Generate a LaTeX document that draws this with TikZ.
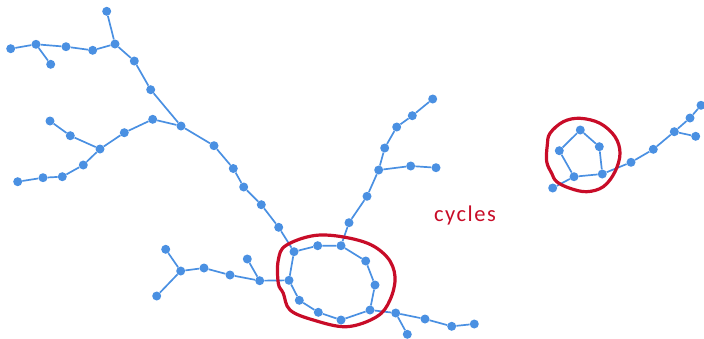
\documentclass[tikz,border=0pt]{standalone}
\usepackage{fontspec}
\newfontfamily\lblfont[LetterSpace=7]{Carlito}
\definecolor{nodeblue}{RGB}{74,144,226}
\definecolor{cyclered}{RGB}{200,12,40}
\tikzset{
  vtx/.style={circle,fill=nodeblue,draw=none,inner sep=0pt,minimum size=9pt},
  edg/.style={draw=nodeblue,line width=1.7pt},
  loopline/.style={draw=cyclered,line width=3.2pt,line join=round},
}
\begin{document}
\begin{tikzpicture}[x=1pt,y=-1pt]
\useasboundingbox (0,0) rectangle (704,338);
% top-left branch
\node[vtx] (a1) at (10.7,48.7) {};
\node[vtx] (a2) at (36,44.3) {};
\node[vtx] (a3) at (50.7,64.3) {};
\node[vtx] (a4) at (66,46.7) {};
\node[vtx] (a5) at (92.7,50.3) {};
\node[vtx] (a6) at (115,44) {};
\node[vtx] (a7) at (106.7,11.3) {};
\node[vtx] (a8) at (134.3,61) {};
\node[vtx] (a9) at (150.7,89.7) {};
\node[vtx] (hub) at (181,126) {};
% middle-left branch
\node[vtx] (b1) at (50,121) {};
\node[vtx] (b2) at (70.3,135.7) {};
\node[vtx] (b3) at (100,149) {};
\node[vtx] (b4) at (124.3,132.7) {};
\node[vtx] (b5) at (152.7,119.3) {};
\node[vtx] (b9) at (83.3,165) {};
\node[vtx] (b10) at (62.3,176.7) {};
\node[vtx] (b11) at (43,177.7) {};
\node[vtx] (b12) at (17.7,181.7) {};
% chain down
\node[vtx] (c1) at (214,145.7) {};
\node[vtx] (c2) at (233.3,168.5) {};
\node[vtx] (c3) at (243.7,187) {};
\node[vtx] (c4) at (261.3,204.7) {};
\node[vtx] (c5) at (278.7,227.3) {};
% ring
\node[vtx] (r1) at (294,251.7) {};
\node[vtx] (r2) at (317.7,245.7) {};
\node[vtx] (r3) at (341,245.7) {};
\node[vtx] (r4) at (365.7,261) {};
\node[vtx] (r5) at (375,285) {};
\node[vtx] (r6) at (370,310) {};
\node[vtx] (r7) at (341,320) {};
\node[vtx] (r8) at (318.3,312.3) {};
\node[vtx] (r9) at (299.3,300.3) {};
\node[vtx] (r10) at (289,280.3) {};
% lower-left branch
\node[vtx] (d1) at (165.7,249.3) {};
\node[vtx] (d2) at (180.7,271) {};
\node[vtx] (d3) at (156.7,296) {};
\node[vtx] (d4) at (204,268) {};
\node[vtx] (d5) at (230,275) {};
\node[vtx] (d6) at (247.3,259) {};
\node[vtx] (d7) at (259.7,280.7) {};
% lower-right branch
\node[vtx] (e1) at (395.7,313) {};
\node[vtx] (e2) at (407.3,334.3) {};
\node[vtx] (e3) at (425,319) {};
\node[vtx] (e4) at (451.7,326.3) {};
\node[vtx] (e5) at (474.3,324) {};
% upward branch
\node[vtx] (f1) at (349,222.7) {};
\node[vtx] (f2) at (367,196.3) {};
\node[vtx] (f3) at (378.7,170) {};
\node[vtx] (f4) at (384.7,148) {};
\node[vtx] (f5) at (396.7,127) {};
\node[vtx] (f6) at (412.3,115.7) {};
\node[vtx] (f7) at (432.7,99) {};
\node[vtx] (f8) at (410.7,166) {};
\node[vtx] (f9) at (436,167.7) {};
% right cluster
\node[vtx] (p1) at (580.3,130) {};
\node[vtx] (p2) at (599.3,146.7) {};
\node[vtx] (p3) at (602.3,174) {};
\node[vtx] (p4) at (574,176.7) {};
\node[vtx] (p5) at (559.3,150.7) {};
\node[vtx] (q0) at (552.7,188) {};
\node[vtx] (q1) at (631,162.3) {};
\node[vtx] (q2) at (653.3,149.3) {};
\node[vtx] (q3) at (674.3,131.7) {};
\node[vtx] (q4) at (690,118) {};
\node[vtx] (q5) at (701,105.3) {};
\node[vtx] (q6) at (695.7,136.3) {};
% edges
\draw[edg] (a1)--(a2) (a2)--(a3) (a2)--(a4) (a4)--(a5) (a5)--(a6) (a6)--(a7)
  (a6)--(a8) (a8)--(a9) (a9)--(hub);
\draw[edg] (b1)--(b2) (b2)--(b3) (b3)--(b4) (b4)--(b5) (b5)--(hub)
  (b3)--(b9) (b9)--(b10) (b10)--(b11) (b11)--(b12);
\draw[edg] (hub)--(c1) (c1)--(c2) (c2)--(c3) (c3)--(c4) (c4)--(c5) (c5)--(r1);
\draw[edg] (r1)--(r2) (r2)--(r3) (r3)--(r4) (r4)--(r5) (r5)--(r6) (r6)--(r7)
  (r7)--(r8) (r8)--(r9) (r9)--(r10) (r10)--(r1);
\draw[edg] (d1)--(d2) (d2)--(d3) (d2)--(d4) (d4)--(d5) (d5)--(d7) (d6)--(d7) (d7)--(r10);
\draw[edg] (r6)--(e1) (e1)--(e2) (e1)--(e3) (e3)--(e4) (e4)--(e5);
\draw[edg] (r3)--(f1) (f1)--(f2) (f2)--(f3) (f3)--(f4) (f4)--(f5) (f5)--(f6) (f6)--(f7)
  (f3)--(f8) (f8)--(f9);
\draw[edg] (p1)--(p2) (p2)--(p3) (p3)--(p4) (p4)--(p5) (p5)--(p1) (p4)--(q0)
  (p3)--(q1) (q1)--(q2) (q2)--(q3) (q3)--(q4) (q4)--(q5) (q3)--(q6);
% cycle outlines
\draw[loopline] plot[smooth cycle,tension=0.6] coordinates {
  (286.7,245) (320,235) (363.3,241.7) (386.7,256.7) (395,276.7) (390,300)
  (376.7,316.7) (346.7,326.7) (313.3,320) (290,310) (283.3,293.3) (278.3,283.3) (278.3,260)};
\draw[loopline] plot[smooth cycle,tension=0.6] coordinates {
  (550,133.3) (563.3,121.7) (580,118.3) (600,123.3) (615,136.7) (620,153.3) (615,171.7)
  (603.3,186.7) (586.7,191.7) (570,188.3) (556.7,181.7) (551.7,173.3) (546.7,161.7) (547.3,145)};
% label
\node[text=cyclered,font=\lblfont\fontsize{22.5}{24}\selectfont,anchor=base,inner sep=0pt]
  (lbl) at (465,221.7) {cycles};
\end{tikzpicture}
\end{document}
